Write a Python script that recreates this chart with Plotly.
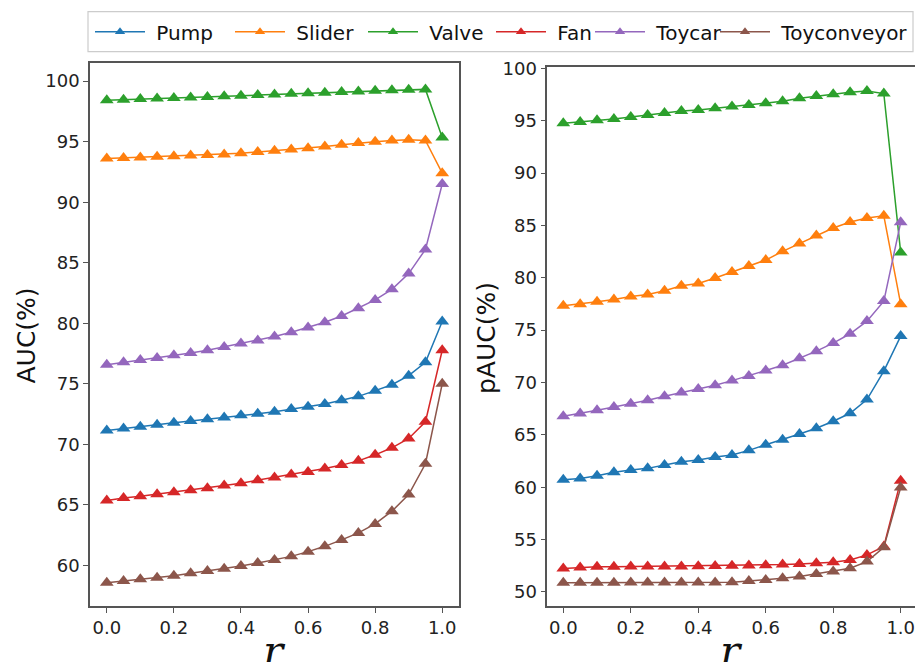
import plotly.graph_objects as go

r_values = [0.0, 0.05, 0.1, 0.15, 0.2, 0.25, 0.3, 0.35, 0.4, 0.45, 0.5,
            0.55, 0.6, 0.65, 0.7, 0.75, 0.8, 0.85, 0.9, 0.95, 1.0]

series_names = ["Pump", "Slider", "Valve", "Fan", "Toycar", "Toyconveyor"]
series_colors = ["#1f77b4", "#ff7f0e", "#2ca02c", "#d62728", "#9467bd", "#8c564b"]

# AUC (%) - left panel
auc_pump = [71.14, 71.31, 71.45, 71.61, 71.78, 71.92, 72.06, 72.22, 72.39, 72.52, 72.69,
            72.91, 73.10, 73.32, 73.63, 73.96, 74.43, 74.92, 75.67, 76.77, 80.14]
auc_slider = [93.60, 93.65, 93.70, 93.75, 93.80, 93.85, 93.90, 93.95, 94.05, 94.15, 94.25,
              94.35, 94.45, 94.60, 94.75, 94.90, 95.00, 95.10, 95.15, 95.10, 92.40]
auc_valve = [98.43, 98.47, 98.52, 98.56, 98.60, 98.65, 98.70, 98.75, 98.80, 98.85, 98.90,
             98.95, 99.00, 99.05, 99.10, 99.15, 99.20, 99.25, 99.30, 99.32, 95.35]
auc_fan = [65.35, 65.57, 65.71, 65.88, 66.04, 66.21, 66.37, 66.59, 66.79, 67.03, 67.26,
           67.50, 67.72, 68.00, 68.28, 68.63, 69.13, 69.71, 70.48, 71.86, 77.77]
auc_toycar = [76.58, 76.77, 76.97, 77.13, 77.35, 77.54, 77.77, 78.04, 78.32, 78.57, 78.90,
              79.26, 79.64, 80.08, 80.60, 81.24, 81.93, 82.80, 84.10, 86.10, 91.50]
auc_toyconveyor = [58.57, 58.70, 58.84, 58.98, 59.14, 59.34, 59.53, 59.72, 59.94, 60.19, 60.44,
                   60.74, 61.13, 61.57, 62.10, 62.68, 63.42, 64.47, 65.85, 68.39, 75.00]

# pAUC (%) - right panel
pauc_pump = [60.71, 60.84, 61.10, 61.42, 61.64, 61.80, 62.12, 62.44, 62.60, 62.88, 63.07,
             63.52, 64.06, 64.54, 65.08, 65.63, 66.30, 67.06, 68.37, 71.08, 74.43]
pauc_slider = [77.32, 77.48, 77.71, 77.93, 78.22, 78.41, 78.76, 79.24, 79.46, 79.97, 80.54,
               81.11, 81.69, 82.52, 83.28, 84.04, 84.75, 85.32, 85.70, 85.92, 77.48]
pauc_valve = [94.75, 94.87, 95.03, 95.16, 95.35, 95.54, 95.73, 95.92, 96.02, 96.18, 96.34,
              96.50, 96.66, 96.85, 97.13, 97.36, 97.52, 97.71, 97.83, 97.58, 82.42]
pauc_fan = [52.23, 52.33, 52.40, 52.40, 52.42, 52.42, 52.43, 52.43, 52.45, 52.47, 52.50,
            52.52, 52.56, 52.62, 52.68, 52.74, 52.84, 53.06, 53.54, 54.34, 60.62]
pauc_toycar = [66.77, 67.03, 67.35, 67.67, 67.98, 68.30, 68.69, 69.04, 69.39, 69.74, 70.18,
               70.63, 71.14, 71.65, 72.32, 72.99, 73.76, 74.65, 75.86, 77.77, 85.29]
pauc_toyconveyor = [50.89, 50.89, 50.89, 50.89, 50.90, 50.90, 50.90, 50.90, 50.90, 50.90, 50.92,
                    51.05, 51.15, 51.30, 51.47, 51.72, 51.95, 52.26, 52.90, 54.27, 59.98]

auc_series = [auc_pump, auc_slider, auc_valve, auc_fan, auc_toycar, auc_toyconveyor]
pauc_series = [pauc_pump, pauc_slider, pauc_valve, pauc_fan, pauc_toycar, pauc_toyconveyor]

# left edge (px) of each legend entry's line, as in the reference
legend_entry_px = [97, 237, 370, 498, 597, 722]

W, H = 915, 662
fig = go.Figure()

for name, color, ys in zip(series_names, series_colors, auc_series):
    fig.add_trace(go.Scatter(x=r_values, y=ys, mode="lines+markers", name=name,
                             line=dict(color=color, width=1.5),
                             marker=dict(symbol="triangle-up", size=12, color=color, line=dict(width=0)),
                             xaxis="x", yaxis="y", showlegend=False))
for name, color, ys in zip(series_names, series_colors, pauc_series):
    fig.add_trace(go.Scatter(x=r_values, y=ys, mode="lines+markers", name=name,
                             line=dict(color=color, width=1.5),
                             marker=dict(symbol="triangle-up", size=12, color=color, line=dict(width=0)),
                             xaxis="x2", yaxis="y2", showlegend=False))

legend_font = dict(family="DejaVu Sans", size=20, color="#111111")
legend_layouts = {}
for i, (name, color) in enumerate(zip(series_names, series_colors)):
    lname = "legend" if i == 0 else f"legend{i + 1}"
    fig.add_trace(go.Scatter(x=[None], y=[None], mode="lines+markers",
                             name="\u00a0" + name,
                             line=dict(color=color, width=1.5),
                             marker=dict(symbol="triangle-up", size=9, color=color, line=dict(width=0)),
                             xaxis="x", yaxis="y", showlegend=True, legend=lname))
    legend_layouts[lname] = dict(orientation="h", x=(legend_entry_px[i] - 7) / W,
                                 y=1 - 31.7 / H, xanchor="left", yanchor="middle",
                                 bgcolor="rgba(0,0,0,0)", borderwidth=0,
                                 font=legend_font, itemwidth=50)

axis_col = "#555555"
tick_font = dict(family="DejaVu Sans", size=18, color="#222222")
common_x = dict(showline=True, linecolor=axis_col, linewidth=1.5, mirror=True,
                ticks="outside", ticklen=5, tickwidth=1.2, tickcolor=axis_col,
                tickmode="array", tickvals=[0.0, 0.2, 0.4, 0.6, 0.8, 1.0],
                ticktext=["0.0", "0.2", "0.4", "0.6", "0.8", "1.0"],
                showgrid=False, zeroline=False, tickfont=tick_font, automargin=False,
                ticklabeloverflow="allow")
common_y = dict(showline=True, linecolor=axis_col, linewidth=1.5, mirror=True,
                ticks="outside", ticklen=5, tickwidth=1.2, tickcolor=axis_col, dtick=5, tick0=0,
                showgrid=False, zeroline=False, tickfont=tick_font, automargin=False,
                ticklabeloverflow="allow")

fig.update_layout(
    width=W, height=H,
    margin=dict(l=0, r=0, t=0, b=0),
    paper_bgcolor="white", plot_bgcolor="white",
    xaxis=dict(domain=[90 / W, 459 / W], range=[-0.05, 1.05], anchor="y", **common_x),
    yaxis=dict(domain=[1 - 606 / H, 1 - 63 / H], range=[56.64, 101.5], anchor="x", **common_y),
    xaxis2=dict(domain=[547.3 / W, 1.0], range=[-0.0474, 1.0424], anchor="y2", **common_x),
    yaxis2=dict(domain=[1 - 606 / H, 1 - 66.7 / H], range=[48.66, 100.15], anchor="x2", **common_y),
    shapes=[dict(type="rect", xref="paper", yref="paper",
                 x0=88 / W, x1=913 / W, y0=1 - 51.7 / H, y1=1 - 11.7 / H,
                 line=dict(color="#cccccc", width=1.2), fillcolor="rgba(0,0,0,0)", layer="below")],
    annotations=[
        dict(text="AUC(%)", x=26 / W, y=1 - 335.5 / H, xref="paper", yref="paper",
             textangle=-90, showarrow=False, xanchor="center", yanchor="middle",
             font=dict(family="DejaVu Sans", size=25, color="#111111")),
        dict(text="pAUC(%)", x=486 / W, y=1 - 338 / H, xref="paper", yref="paper",
             textangle=-90, showarrow=False, xanchor="center", yanchor="middle",
             font=dict(family="DejaVu Sans", size=25, color="#111111")),
        dict(text="<i>r</i>", x=0.5, y=1 - 625 / H, xref="x", yref="paper",
             showarrow=False, xanchor="center", yanchor="top",
             font=dict(family="DejaVu Serif", size=42, color="#111111")),
        dict(text="<i>r</i>", x=0.5, y=1 - 625 / H, xref="x2", yref="paper",
             showarrow=False, xanchor="center", yanchor="top",
             font=dict(family="DejaVu Serif", size=42, color="#111111")),
    ],
    **legend_layouts,
)

fig.write_html("out.html")
